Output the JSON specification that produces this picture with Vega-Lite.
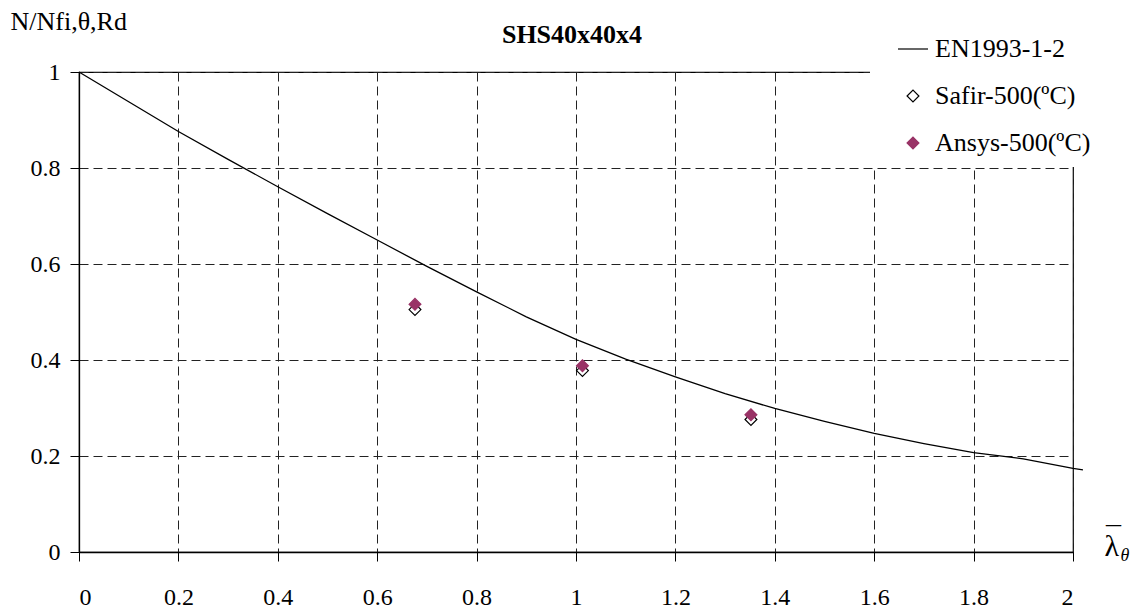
{
  "$schema": "https://vega.github.io/schema/vega-lite/v6.json",
  "width": 994,
  "height": 480,
  "autosize": {"type": "none"},
  "padding": {"left": 79, "top": 72, "right": 64, "bottom": 61},
  "background": "white",
  "config": {
    "font": "Liberation Serif, Times New Roman, DejaVu Serif, serif",
    "view": {"stroke": "black", "strokeWidth": 1.2},
    "axis": {
      "domainColor": "black",
      "domainWidth": 1.3,
      "tickColor": "black",
      "tickSize": 9,
      "tickWidth": 1,
      "labelColor": "black",
      "labelFont": "Liberation Serif, Times New Roman, DejaVu Serif, serif",
      "labelFontSize": 24,
      "gridColor": "#222222",
      "gridDash": [9, 5],
      "gridWidth": 1,
      "titleColor": "black",
      "titleFont": "Liberation Serif, Times New Roman, DejaVu Serif, serif",
      "titleFontWeight": "normal"
    },
    "legend": {
      "labelFont": "Liberation Serif, Times New Roman, DejaVu Serif, serif",
      "labelFontSize": 26,
      "labelColor": "black"
    },
    "title": {
      "font": "Liberation Serif, Times New Roman, DejaVu Serif, serif"
    }
  },
  "title": {
    "text": "SHS40x40x4",
    "fontSize": 26,
    "fontWeight": "bold",
    "color": "black",
    "anchor": "middle",
    "frame": "group",
    "baseline": "bottom",
    "offset": 0,
    "dy": 66,
    "dx": -4
  },
  "datasets": {
    "curve": [
      {"lambda": 0.0, "ratio": 1.0},
      {"lambda": 0.1, "ratio": 0.938},
      {"lambda": 0.2, "ratio": 0.876},
      {"lambda": 0.3, "ratio": 0.818},
      {"lambda": 0.4, "ratio": 0.761},
      {"lambda": 0.5, "ratio": 0.705},
      {"lambda": 0.6, "ratio": 0.65},
      {"lambda": 0.7, "ratio": 0.595},
      {"lambda": 0.8, "ratio": 0.542},
      {"lambda": 0.9, "ratio": 0.49},
      {"lambda": 1.0, "ratio": 0.443},
      {"lambda": 1.1, "ratio": 0.402},
      {"lambda": 1.2, "ratio": 0.365},
      {"lambda": 1.3, "ratio": 0.33},
      {"lambda": 1.4, "ratio": 0.299},
      {"lambda": 1.5, "ratio": 0.272},
      {"lambda": 1.6, "ratio": 0.247},
      {"lambda": 1.7, "ratio": 0.226},
      {"lambda": 1.8, "ratio": 0.207},
      {"lambda": 1.9, "ratio": 0.194},
      {"lambda": 2.0, "ratio": 0.174},
      {"lambda": 2.02, "ratio": 0.171}
    ],
    "points": [
      {"lambda": 0.676, "ratio": 0.505, "series": "Safir-500(ºC)"},
      {"lambda": 1.013, "ratio": 0.378, "series": "Safir-500(ºC)"},
      {"lambda": 1.352, "ratio": 0.276, "series": "Safir-500(ºC)"},
      {"lambda": 0.676, "ratio": 0.516, "series": "Ansys-500(ºC)"},
      {"lambda": 1.013, "ratio": 0.388, "series": "Ansys-500(ºC)"},
      {"lambda": 1.352, "ratio": 0.286, "series": "Ansys-500(ºC)"}
    ]
  },
  "resolve": {"axis": {"y": "independent", "x": "independent"}},
  "layer": [
    {
      "data": {"name": "curve"},
      "mark": {"type": "line", "color": "black", "strokeWidth": 1.3, "clip": false},
      "encoding": {
        "x": {
          "field": "lambda",
          "type": "quantitative",
          "scale": {"domain": [0, 2], "nice": false, "zero": false},
          "axis": {
            "values": [0, 0.2, 0.4, 0.6, 0.8, 1, 1.2, 1.4, 1.6, 1.8, 2],
            "format": ".1~f",
            "labelPadding": 24,
            "title": "λ",
            "titleFontSize": 30,
            "titleAlign": "left",
            "titleBaseline": "middle",
            "titleAngle": 0,
            "titleX": 1025,
            "titleY": -6
          }
        },
        "y": {
          "field": "ratio",
          "type": "quantitative",
          "scale": {"domain": [0, 1], "nice": false},
          "axis": {
            "values": [0, 0.2, 0.4, 0.6, 0.8, 1],
            "format": ".1~f",
            "labelPadding": 10,
            "title": "N/Nfi,θ,Rd",
            "titleFontSize": 26,
            "titleAngle": 0,
            "titleAlign": "left",
            "titleBaseline": "middle",
            "titleX": -69,
            "titleY": -51
          }
        }
      }
    },
    {
      "data": {"name": "points"},
      "mark": {"type": "point", "strokeWidth": 1.2, "opacity": 1, "filled": false},
      "encoding": {
        "x": {
          "field": "lambda",
          "type": "quantitative",
          "scale": {"domain": [0, 2], "nice": false, "zero": false},
          "axis": {
            "orient": "top",
            "labels": false,
            "ticks": false,
            "domain": false,
            "grid": false,
            "title": "¯",
            "titleFontSize": 30,
            "titleAlign": "center",
            "titleBaseline": "alphabetic",
            "titleAngle": 0,
            "titleX": 1034,
            "titleY": 474
          }
        },
        "y": {
          "field": "ratio",
          "type": "quantitative",
          "scale": {"domain": [0, 1], "nice": false},
          "axis": {
            "orient": "right",
            "labels": false,
            "ticks": false,
            "domain": false,
            "grid": false,
            "title": "θ",
            "titleFontSize": 18,
            "titleFontStyle": "italic",
            "titleAngle": 0,
            "titleAlign": "left",
            "titleBaseline": "middle",
            "titleX": 47,
            "titleY": 483
          }
        },
        "shape": {
          "field": "series",
          "type": "nominal",
          "scale": {"domain": ["EN1993-1-2", "Safir-500(ºC)", "Ansys-500(ºC)"], "range": ["stroke", "diamond", "diamond"]},
          "legend": {
            "title": null,
            "orient": "none",
            "legendX": 791,
            "legendY": -50,
            "fillColor": "white",
            "padding": 11,
            "symbolOffset": 16,
            "labelOffset": 6,
            "rowPadding": 21,
            "symbolStrokeWidth": 1.2
          }
        },
        "size": {
          "field": "series",
          "type": "nominal",
          "scale": {"type": "ordinal", "domain": ["EN1993-1-2", "Safir-500(ºC)", "Ansys-500(ºC)"], "range": [900, 140, 140]},
          "legend": {
            "title": null,
            "orient": "none",
            "legendX": 791,
            "legendY": -50
          }
        },
        "fill": {
          "field": "series",
          "type": "nominal",
          "scale": {"domain": ["EN1993-1-2", "Safir-500(ºC)", "Ansys-500(ºC)"], "range": ["white", "white", "#993366"]},
          "legend": {
            "title": null,
            "orient": "none",
            "legendX": 791,
            "legendY": -50
          }
        },
        "stroke": {
          "field": "series",
          "type": "nominal",
          "scale": {"domain": ["EN1993-1-2", "Safir-500(ºC)", "Ansys-500(ºC)"], "range": ["black", "black", "#993366"]},
          "legend": {
            "title": null,
            "orient": "none",
            "legendX": 791,
            "legendY": -50
          }
        }
      }
    }
  ]
}
